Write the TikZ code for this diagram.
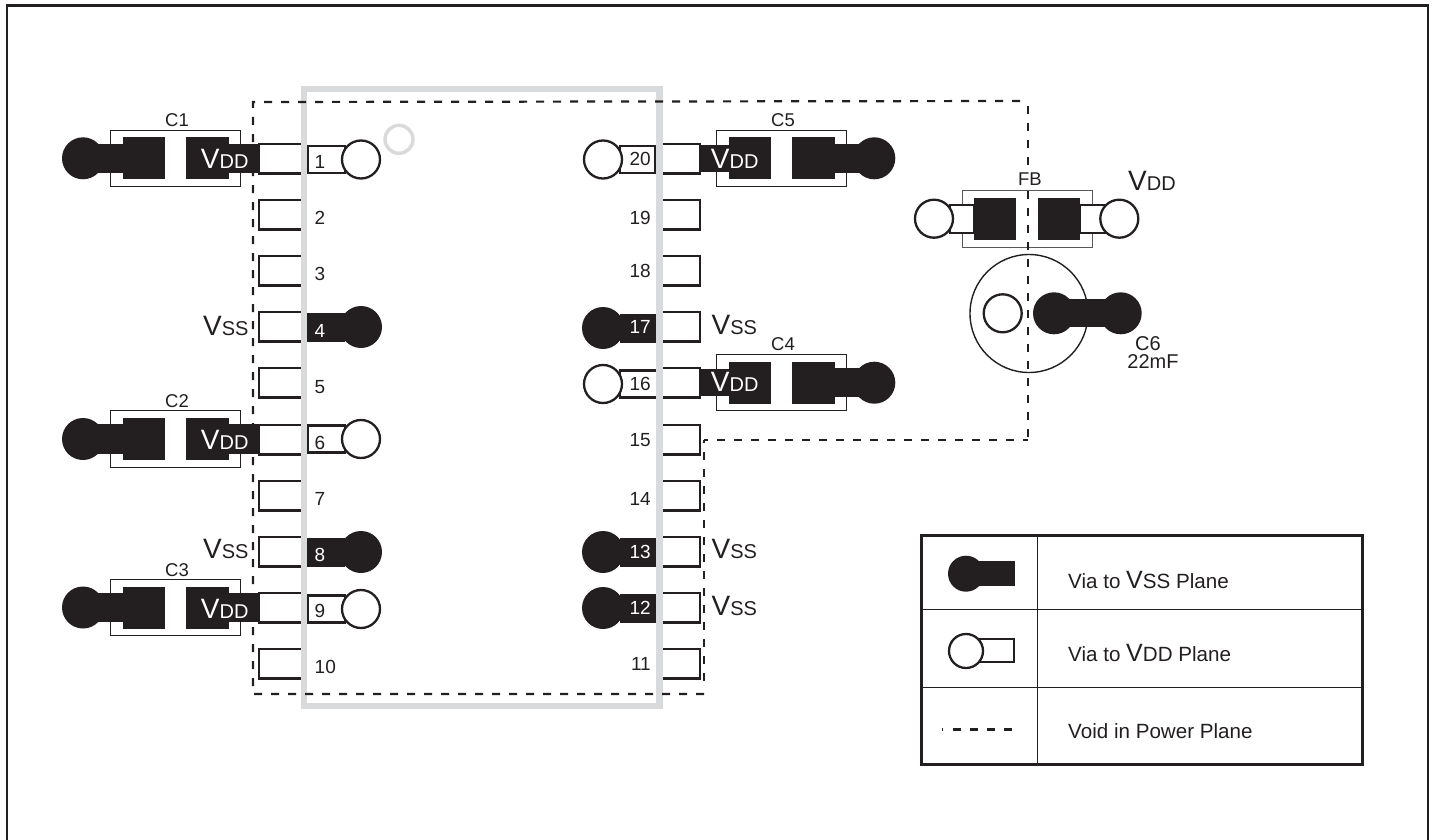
\documentclass[tikz,border=0pt]{standalone}
\usepackage{fontspec}
\setmainfont{Liberation Sans}
\usepackage{tikz}
\definecolor{ink}{HTML}{231F20}
\definecolor{pkg}{HTML}{D9DADB}
\newcommand{\bigV}{{\fontsize{28}{28}\selectfont V}}
\newcommand{\vddlbl}{\bigV{\fontsize{20}{20}\selectfont DD}}
\newcommand{\vsslbl}{\bigV{\fontsize{20}{20}\selectfont SS}}

\begin{document}
\begin{tikzpicture}[x=1pt,y=-1pt,
		padline/.style={draw=ink,line width=2.1pt,fill=white},
		viaopen/.style={draw=ink,line width=2.3pt,fill=white},
		metal/.style={fill=ink},
		capbox/.style={draw=ink,line width=1pt},
		void/.style={draw=ink,line width=2.2pt,dash pattern=on 8pt off 9pt},
		txt/.style={text=ink,inner sep=0pt,anchor=base west,font=\fontsize{19}{20}\selectfont},
		txtr/.style={txt,anchor=base east},
		capt/.style={txt,anchor=base,font=\fontsize{18.5}{20}\selectfont},
		plane/.style={txt,font=\fontsize{20.6}{22}\selectfont},
		inv/.style={txt,text=white}]
		\useasboundingbox (0,0) rectangle (1435,840);
		\draw[ink,line width=2.6pt] (7,840) -- (7,5.5) -- (1428,5.5) -- (1428,840);
		% pads either side of the package
		\foreach \y in {144,200,256,312,368,425,481,537,593,649}{
			\draw[padline] (301,\y) -- (259,\y) -- (259,\y+29.5) -- (301,\y+29.5);
			\draw[padline,fill=none] (662,\y) -- (700,\y) -- (700,\y+29.5) -- (662,\y+29.5);
		}
		% pins with a via, left column
		\foreach \x/\y in {308/159.5,308/439,307.5/609}{
			\draw[padline] (\x,\y-13.5) rectangle (345,\y+13.5);
			\draw[viaopen] (361,\y) circle (19pt);
		}
		\foreach \y in {327,552}{
			\fill[metal] (306.5,\y-14.5) rectangle (345,\y+14.5);
			\fill[metal] (361,\y) circle (21pt);
		}
		% pins with a via, right column
		\foreach \x/\y in {655.5/159.5,657/384}{
			\draw[padline] (\x,\y-13.5) rectangle (620,\y+13.5);
			\draw[viaopen] (603,\y) circle (19pt);
		}
		\foreach \x/\y in {655.5/328,657.5/552,657.5/608}{
			\fill[metal] (\x,\y-14.5) rectangle (620,\y+14.5);
			\fill[metal] (603,\y) circle (21pt);
		}
		% capacitors
		\foreach \y in {158.3,439,607.5}{
			\draw[capbox] (110.3,\y-28.2) rectangle (240.3,\y+28.2);
			\fill[metal] (83,\y) circle (21pt);
			\fill[metal] (83,\y-14.7) rectangle (123,\y+14.7);
			\fill[metal] (122.7,\y-21) rectangle (165,\y+21);
			\fill[metal] (186.3,\y-21) rectangle (228.7,\y+21);
			\fill[metal] (228,\y-14.7) rectangle (260,\y+14.7);
		}
		\foreach \y in {158.3,382.7}{
			\draw[capbox] (716.7,\y-28.2) rectangle (846.7,\y+28.2);
			\fill[metal] (874.3,\y) circle (21pt);
			\fill[metal] (834,\y-14.7) rectangle (874,\y+14.7);
			\fill[metal] (728.7,\y-21) rectangle (771,\y+21);
			\fill[metal] (792.3,\y-21) rectangle (834.7,\y+21);
			\fill[metal] (700,\y-13.5) rectangle (729,\y+13.5);
		}
		% ferrite bead
		\draw[capbox,draw=ink!75] (962.3,190.7) rectangle (1092.3,247);
		\draw[padline] (950,205) rectangle (974,233);
		\draw[padline] (1080,205) rectangle (1105,233);
		\fill[metal] (974,198.3) rectangle (1016,240);
		\fill[metal] (1038,198.3) rectangle (1080,240);
		\draw[viaopen] (934,218.7) circle (19pt);
		\draw[viaopen] (1119.3,218.7) circle (19pt);
		% large capacitor
		\draw[ink,line width=1.4pt] (1029,313.5) circle (59pt);
		\draw[viaopen] (1002.7,313.3) circle (19pt);
		\fill[metal] (1054,313.3) circle (21pt);
		\fill[metal] (1120.7,313.3) circle (21pt);
		\fill[metal] (1054,299.3) rectangle (1120.7,327.3);
		% package outline
		\draw[pkg,line width=6.5pt] (304,89) rectangle (659.5,706);
		\draw[pkg,line width=3.5pt] (399,139.3) circle (14pt);
		% void outline
		\draw[void] (704,694) -- (253,694) -- (253,102) -- (1028,101);
		\draw[void] (1028,106) -- (1028,440);
		\draw[void,dash phase=3pt] (1028,440) -- (704,440);
		\draw[void,dash phase=5pt] (704,440) -- (704,686);
		% pin numbers
		\foreach \n/\y in {1/168,2/224,3/280,5/393,6/449,7/505,9/617,10/673}{
			\node[txt] (pinl\n) at (314.5,\y) {\n};
		}
		\foreach \n/\y in {4/337,8/561}{
			\node[inv] (pinl\n) at (314.5,\y) {\n};
		}
		\foreach \n/\y in {20/165,19/224,18/277,16/390,15/446,14/505,11/670}{
			\node[txtr] (pinr\n) at (651,\y) {\n};
		}
		\foreach \n/\y in {17/333,13/558,12/614}{
			\node[txtr,text=white] (pinr\n) at (651,\y) {\n};
		}
		% part names
		\foreach \n/\x/\y in {C1/177/126.7,C2/177/407,C3/177/576,C5/783/126.7,C4/783/350.7}{
			\node[capt] (name\n) at (\x,\y) {\n};
		}
		\node[capt,fill=white] (nameFB) at (1030,185) {FB};
		\node[capt,font=\fontsize{20}{20}\selectfont] (nameC6) at (1148,350) {C6};
		\node[capt,font=\fontsize{20}{20}\selectfont] (valC6) at (1153,368) {22mF};
		% supply labels
		\foreach \n/\x/\y in {a/200.7/168.3,b/200.7/449,c/200.7/618.3,d/710.7/168,e/710.7/391.7}{
			\node[inv] (vdd\n) at (\x,\y) {\vddlbl};
		}
		\node[txt] (vddf) at (1128,190.5) {\vddlbl};
		\foreach \n/\x/\y in {a/203/335,b/203/558.3,c/711.5/334.3,d/711.5/558.3,e/711.5/615.7}{
			\node[txt] (vss\n) at (\x,\y) {\vsslbl};
		}
		% legend
		\draw[ink,line width=1.5pt] (1037.7,535) -- (1037.7,764);
		\draw[ink,line width=1.5pt] (921,609.7) -- (1362.3,609.7);
		\draw[ink,line width=1.5pt] (921,687.3) -- (1362.3,687.3);
		\draw[ink,line width=3pt] (921,535) rectangle (1362.3,764);
		\fill[metal] (966,573.7) circle (18pt);
		\fill[metal] (966,561) rectangle (1014.7,586.3);
		\draw[padline] (966,639) rectangle (1014,662.3);
		\draw[viaopen] (966,651) circle (17pt);
		\draw[void,line width=3pt] (953,729) -- (1012,729);
		\draw[ink,line width=0.4pt] (941.7,727.5) -- (941.7,730.5);
		\node[plane] (lgssa) at (1068,588.3) {Via to {\fontsize{25}{25}\selectfont V}SS Plane};
		\node[plane] (lgdda) at (1068,661.7) {Via to {\fontsize{25}{25}\selectfont V}DD Plane};
		\node[plane] (lgvoid) at (1068,738.3) {Void in Power Plane};
		\end{tikzpicture}
\end{document}
